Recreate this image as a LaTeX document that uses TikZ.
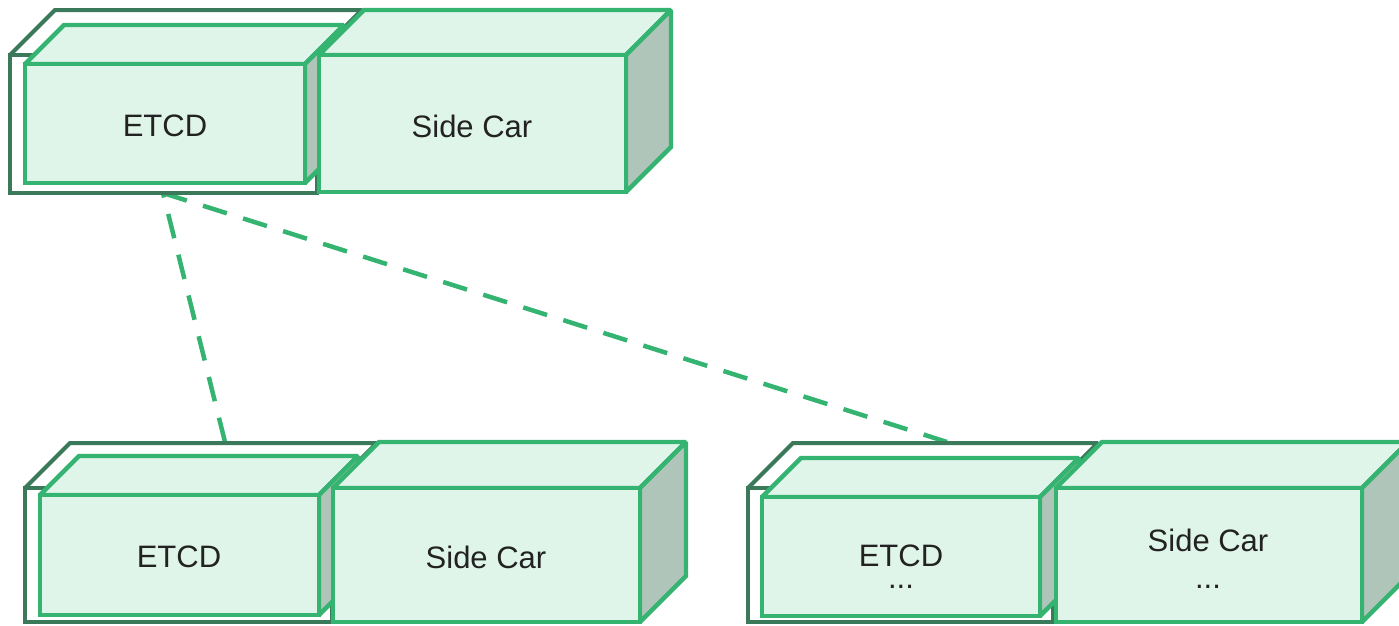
\documentclass[tikz,border=0pt]{standalone}
\usepackage{fontspec}
\setmainfont{Liberation Sans}
\definecolor{grn}{RGB}{52,179,113}
\definecolor{drk}{RGB}{58,122,90}
\definecolor{mint}{RGB}{224,245,234}
\definecolor{sidegray}{RGB}{176,197,186}
\definecolor{txt}{RGB}{34,34,34}
\tikzset{
  outerbox/.style={draw=drk, fill=white, line width=4pt, miter limit=2},
  innerbox/.style={draw=grn, fill=mint, line width=4.3pt, miter limit=2},
  lbl/.style={text=txt, font=\fontsize{31}{37}\selectfont, inner sep=0pt, anchor=center},
  dotlbl/.style={text=txt, font=\fontsize{31}{37}\selectfont, inner sep=0pt, anchor=base},
  link/.style={draw=grn, line width=4.5pt, dash pattern=on 25pt off 17pt}
}
% #1 style, #2 side fill, #3 x1, #4 y1, #5 x2, #6 y2, #7 depth
\newcommand{\cuboid}[7]{%
  \filldraw[#1] (#3,#4) -- ({#3+#7},{#4-#7}) -- ({#5+#7},{#4-#7}) -- (#5,#4) -- cycle;
  \filldraw[#1, fill=#2] (#5,#4) -- ({#5+#7},{#4-#7}) -- ({#5+#7},{#6-#7}) -- (#5,#6) -- cycle;
  \filldraw[#1] (#3,#4) rectangle (#5,#6);
}
\begin{document}
\begin{tikzpicture}[x=1pt,y=-1pt]
\useasboundingbox (0,0) rectangle (1399,625);
\clip (0,0) rectangle (1399,625);

% connector end points
\coordinate (topEtcd) at (163,193);
\coordinate (leftEtcd) at (225,442);
\coordinate (rightEtcd) at (947,442);
\draw[link] (leftEtcd) -- (topEtcd);
\draw[link] (topEtcd) -- (rightEtcd);

% top group
\cuboid{outerbox}{white}{10}{55}{317}{193}{45}
\cuboid{innerbox}{sidegray}{25}{64}{305}{183}{39}
\cuboid{innerbox}{sidegray}{319}{55}{626}{192}{45}
\node[lbl] (etcdA) at (165,126) {ETCD};
\node[lbl] (sideA) at (472,126) {Side Car};

% bottom-left group
\cuboid{outerbox}{white}{25}{488}{332}{622}{45}
\cuboid{innerbox}{sidegray}{40}{495}{319}{615}{39}
\cuboid{innerbox}{sidegray}{333}{488}{640}{622}{46}
\node[lbl] (etcdB) at (179,557) {ETCD};
\node[lbl] (sideB) at (486,557) {Side Car};

% bottom-right group
\cuboid{outerbox}{white}{748}{488}{1053}{622}{45}
\cuboid{innerbox}{sidegray}{762}{497}{1040}{616}{39}
\cuboid{innerbox}{sidegray}{1056}{488}{1362}{622}{46}
\node[lbl] (etcdC) at (901,556) {ETCD};
\node[dotlbl] (etcdCdots) at (901,588) {...};
\node[lbl] (sideC) at (1208,540) {Side Car};
\node[dotlbl] (sideCdots) at (1208,588) {...};
\end{tikzpicture}
\end{document}
